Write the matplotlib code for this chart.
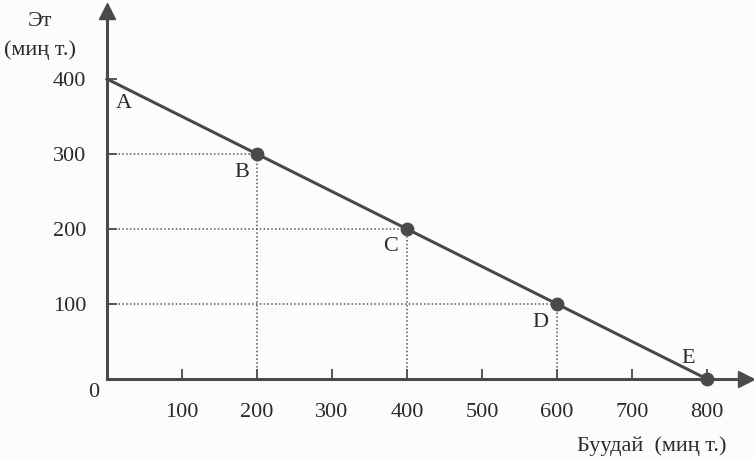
import matplotlib.pyplot as plt

# Production possibilities: wheat vs meat (thousand tonnes)
wheat = [0, 200, 400, 600, 800]
meat = [400, 300, 200, 100, 0]
point_names = ["A", "B", "C", "D", "E"]
x_ticks = [100, 200, 300, 400, 500, 600, 700, 800]
y_ticks = [100, 200, 300, 400]

plt.rcParams['font.family'] = ['Liberation Serif', 'DejaVu Serif']
ink = '#4a4a4a'
txt = '#2a2a2a'
fs = 16

fig = plt.figure(figsize=(7.54, 4.58), dpi=100, facecolor='#fcfcfa')
ax = fig.add_axes([0, 0, 1, 1])
ax.set_facecolor('#fcfcfa')
ax.set_xlim(-142.7, 862.7)
ax.set_ylim(-105.3, 505.3)

# axes through origin
for s in ['top', 'right']:
    ax.spines[s].set_visible(False)
ax.spines['left'].set_position(('data', 0))
ax.spines['bottom'].set_position(('data', 0))
ax.spines['left'].set_bounds(0, 485)
ax.spines['bottom'].set_bounds(0, 845)
for s in ['left', 'bottom']:
    ax.spines[s].set_color(ink)
    ax.spines[s].set_linewidth(2.2)
ax.plot(0, 490, marker='^', color=ink, markersize=11, clip_on=False)
ax.plot(852, 0, marker='>', color=ink, markersize=11, clip_on=False)

ax.set_xticks(x_ticks)
ax.set_yticks(y_ticks)
ax.tick_params(axis='x', direction='in', length=7, width=1.3, color=ink,
               pad=17, labelsize=fs, labelcolor=txt)
ax.tick_params(axis='y', direction='in', length=7, width=1.3, color=ink,
               pad=15, labelsize=fs, labelcolor=txt)
ax.text(-18, -18, "0", fontsize=fs, color=txt, ha='center', va='center')

# guide lines
for x, y in zip(wheat[1:4], meat[1:4]):
    ax.plot([0, x], [y, y], linestyle=(0, (1, 1.5)), color='#555555', linewidth=1.1)
    ax.plot([x, x], [0, y], linestyle=(0, (1, 1.5)), color='#555555', linewidth=1.1)

# frontier
ax.plot(wheat, meat, color=ink, linewidth=2.2, zorder=3)
ax.scatter(wheat[1:], meat[1:], s=80, color=ink, zorder=4, clip_on=False)

offsets = {"A": (23, -33), "B": (-20, -25), "C": (-22, -23), "D": (-22, -25), "E": (-25, 28)}
for n, x, y in zip(point_names, wheat, meat):
    dx, dy = offsets[n]
    ax.text(x + dx, y + dy, n, fontsize=fs, color=txt, ha='center', va='center')

ax.text(-89, 477, "Эт", fontsize=fs, color=txt, ha='center', va='center')
ax.text(-89, 439, "(миң т.)", fontsize=fs, color=txt, ha='center', va='center')
ax.text(826, -90, "Буудай  (миң т.)", fontsize=fs, color=txt, ha='right', va='center')

fig.savefig("out.png", dpi=100, facecolor=fig.get_facecolor())
